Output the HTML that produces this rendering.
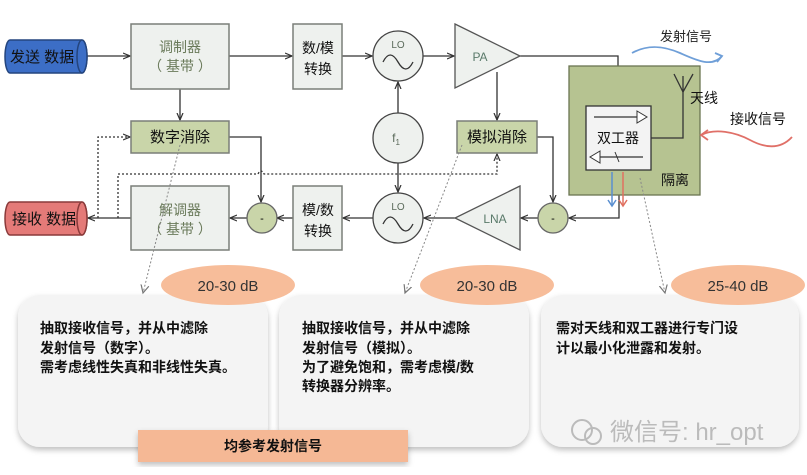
<!DOCTYPE html>
<html><head><meta charset="utf-8"><style>
body{margin:0;background:#fff;width:807px;height:470px;overflow:hidden;font-family:"Liberation Sans","Noto Sans CJK SC",sans-serif}
svg text{font-family:"Liberation Sans","Noto Sans CJK SC",sans-serif}
</style></head><body>
<svg width="807" height="470" viewBox="0 0 807 470" xmlns="http://www.w3.org/2000/svg">
<defs>
<marker id="a" markerWidth="8" markerHeight="8" refX="7" refY="4" orient="auto" markerUnits="userSpaceOnUse"><path d="M0,1 L7,4 L0,7" fill="none" stroke="#333" stroke-width="1.2"/></marker>
<marker id="g" markerWidth="10" markerHeight="10" refX="8" refY="5" orient="auto" markerUnits="userSpaceOnUse"><path d="M0,1 L8,5 L0,9" fill="none" stroke="#777" stroke-width="1.2"/></marker>
<filter id="sh" x="-10%" y="-10%" width="120%" height="125%"><feDropShadow dx="0" dy="3" stdDeviation="3" flood-color="#000" flood-opacity="0.25"/></filter>
</defs>
<g stroke="#333" stroke-width="1.3" fill="none">
<line x1="87" y1="56" x2="130" y2="56" marker-end="url(#a)"/>
<line x1="229" y1="56" x2="292" y2="56" marker-end="url(#a)"/>
<line x1="342" y1="56" x2="372" y2="56" marker-end="url(#a)"/>
<line x1="423" y1="56" x2="454" y2="56" marker-end="url(#a)"/>
<polyline points="520,56 618,56 618,105" marker-end="url(#a)"/>
<line x1="180" y1="89" x2="180" y2="120" marker-end="url(#a)"/>
<line x1="497" y1="72" x2="497" y2="120" marker-end="url(#a)"/>
<line x1="398" y1="113" x2="398" y2="82" marker-end="url(#a)"/>
<line x1="398" y1="163" x2="398" y2="192" marker-end="url(#a)"/>
<polyline points="229,137 261,137 261,202" marker-end="url(#a)"/>
<polyline points="537,137 553,137 553,202" marker-end="url(#a)"/>
<polyline points="619,170 619,218 569,218" marker-end="url(#a)"/>
<line x1="538" y1="218" x2="521" y2="218" marker-end="url(#a)"/>
<line x1="455" y1="218" x2="424" y2="218" marker-end="url(#a)"/>
<line x1="373" y1="218" x2="343" y2="218" marker-end="url(#a)"/>
<line x1="293" y1="218" x2="277" y2="218" marker-end="url(#a)"/>
<line x1="247" y1="218" x2="230" y2="218" marker-end="url(#a)"/>
<line x1="131" y1="218" x2="88" y2="218" marker-end="url(#a)"/>
<polyline points="98,218 98,137 130,137" stroke-dasharray="2,2" marker-end="url(#a)"/>
<path d="M118,218 L118,174 L258,174 Q261,168 264,174 L497,174 L497,154" stroke-dasharray="2,2" marker-end="url(#a)"/>
</g>
<path d="M10,40 L82,40 A5,16.5 0 0 1 82,73 L10,73 A5,16.5 0 0 1 10,40Z" fill="#3c6ec6" stroke="#24457e" stroke-width="1.5"/>
<ellipse cx="82" cy="56.5" rx="5" ry="16.5" fill="#3c6ec6" stroke="#24457e" stroke-width="1.5"/>
<text x="10" y="62" font-size="15" fill="#111">发送 数据</text>
<path d="M10,202 L82,202 A5,16.5 0 0 1 82,235 L10,235 A5,16.5 0 0 1 10,202Z" fill="#e47a78" stroke="#8a3a3a" stroke-width="1.5"/>
<ellipse cx="82" cy="218.5" rx="5" ry="16.5" fill="#e47a78" stroke="#8a3a3a" stroke-width="1.5"/>
<text x="12" y="224" font-size="15" fill="#111">接收 数据</text>
<g stroke="#7a7f78" stroke-width="1.5">
<rect x="131" y="24" width="98" height="65" fill="#eef1ee"/>
<rect x="293" y="24" width="49" height="65" fill="#eef1ee"/>
<rect x="131" y="186" width="98" height="64" fill="#eef1ee"/>
<rect x="293" y="186" width="49" height="64" fill="#eef1ee"/>
<rect x="131" y="121" width="98" height="32" fill="#c9d5a9"/>
<rect x="457" y="121" width="80" height="32" fill="#c9d5a9"/>
</g>
<g font-size="14" fill="#6a7a5a" text-anchor="middle">
<text x="180" y="52">调制器</text><text x="180" y="71">（ 基带 ）</text>
<text x="180" y="215">解调器</text><text x="180" y="234">（ 基带 ）</text>
</g>
<g font-size="14" fill="#111" text-anchor="middle">
<text x="318" y="53">数/模</text><text x="318" y="74">转换</text>
<text x="318" y="215">模/数</text><text x="318" y="236">转换</text>
<text x="180" y="142" font-size="15">数字消除</text>
<text x="497" y="142" font-size="15">模拟消除</text>
</g>
<g stroke="#444" stroke-width="1.3" fill="#eef1ee">
<circle cx="398" cy="56" r="25"/><circle cx="398" cy="138" r="25"/><circle cx="398" cy="218" r="25"/>
</g>
<g fill="none" stroke="#333" stroke-width="1.3">
<path d="M383,62 q7,-14 15,0 q8,14 15,0"/>
<path d="M383,224 q7,-14 15,0 q8,14 15,0"/>
</g>
<text x="398" y="48" font-size="10" fill="#5a6a5a" text-anchor="middle">LO</text>
<text x="398" y="210" font-size="10" fill="#5a6a5a" text-anchor="middle">LO</text>
<text x="396" y="142" font-size="12" fill="#5a6a5a" text-anchor="middle">f<tspan font-size="8" dy="3">1</tspan></text>
<circle cx="262" cy="218" r="15" fill="#c9d5a9" stroke="#666" stroke-width="1.3"/>
<circle cx="553" cy="218" r="15" fill="#c9d5a9" stroke="#666" stroke-width="1.3"/>
<text x="262" y="222" font-size="11" text-anchor="middle">-</text>
<text x="553" y="222" font-size="11" text-anchor="middle">-</text>
<polygon points="455,24 520,56 455,88" fill="#eef1ee" stroke="#555" stroke-width="1.3"/>
<text x="480" y="61" font-size="12" fill="#5a7a6a" text-anchor="middle">PA</text>
<polygon points="520,186 455,218 520,250" fill="#eef1ee" stroke="#555" stroke-width="1.3"/>
<text x="495" y="223" font-size="12" fill="#5a7a6a" text-anchor="middle">LNA</text>
<rect x="569" y="66" width="131" height="129" fill="#b6c391" stroke="#6b7552" stroke-width="1.3"/>
<polyline points="651,138 683,138 683,76" fill="none" stroke="#333" stroke-width="1.3"/>
<polyline points="674,74 683,92 693,74" fill="none" stroke="#333" stroke-width="1.3"/>
<rect x="586" y="106" width="65" height="64" fill="#f3f3f3" stroke="#333" stroke-width="1.3"/>
<line x1="594" y1="117" x2="637" y2="117" stroke="#333" stroke-width="1.2"/>
<polygon points="637,111 647,117 637,123" fill="#fff" stroke="#333"/>
<line x1="600" y1="157" x2="643" y2="157" stroke="#333" stroke-width="1.2"/>
<polygon points="600,151 590,157 600,163" fill="#fff" stroke="#333"/>
<line x1="615" y1="152" x2="619" y2="162" stroke="#333"/>
<text x="618" y="143" font-size="14" text-anchor="middle" fill="#111">双工器</text>
<text x="661" y="185" font-size="14" fill="#111">隔离</text>
<text x="690" y="103" font-size="14" fill="#111">天线</text>
<line x1="612" y1="172" x2="612" y2="205" stroke="#5a8fd0" stroke-width="1.5"/>
<polyline points="608,200 612,206 616,200" fill="none" stroke="#5a8fd0" stroke-width="1.5"/>
<line x1="623" y1="172" x2="623" y2="205" stroke="#e07060" stroke-width="1.5"/>
<polyline points="619,200 623,206 627,200" fill="none" stroke="#e07060" stroke-width="1.5"/>
<path d="M632,53 C648,44 664,46 680,53 S712,68 722,56" fill="none" stroke="#6f9fd8" stroke-width="1.8"/>
<polyline points="715,53 722,56 717,62" fill="none" stroke="#6f9fd8" stroke-width="1.8"/>
<text x="660" y="41" font-size="13" fill="#222">发射信号</text>
<path d="M792,137 C780,150 765,148 750,140 S715,128 701,135" fill="none" stroke="#e07068" stroke-width="1.8"/>
<polyline points="708,130 701,135 708,140" fill="none" stroke="#e07068" stroke-width="1.8"/>
<text x="730" y="124" font-size="14" fill="#111">接收信号</text>
<g fill="#f4f4f4" filter="url(#sh)">
<rect x="18" y="295" width="250" height="152" rx="22"/>
<rect x="279" y="295" width="250" height="152" rx="22"/>
<rect x="541" y="295" width="258" height="152" rx="22"/>
</g>
<g fill="#f7bd9a">
<ellipse cx="228" cy="285" rx="67" ry="20"/>
<ellipse cx="487" cy="285" rx="67" ry="20"/>
<ellipse cx="738" cy="285" rx="67" ry="20"/>
</g>
<g font-size="15" fill="#333" text-anchor="middle">
<text x="228" y="291">20-30 dB</text><text x="487" y="291">20-30 dB</text><text x="738" y="291">25-40 dB</text>
</g>
<g stroke="#888" stroke-width="1" stroke-dasharray="2,2" fill="none">
<line x1="180" y1="145" x2="143" y2="293" marker-end="url(#g)"/>
<line x1="462" y1="145" x2="405" y2="293" marker-end="url(#g)"/>
<line x1="640" y1="178" x2="665" y2="293" marker-end="url(#g)"/>
</g>
<g font-size="14" fill="#111" font-weight="bold">
<text x="40" y="333">抽取接收信号，并从中滤除</text>
<text x="40" y="353">发射信号（数字）。</text>
<text x="40" y="372">需考虑线性失真和非线性失真。</text>
<text x="302" y="333">抽取接收信号，并从中滤除</text>
<text x="302" y="353">发射信号（模拟）。</text>
<text x="302" y="372">为了避免饱和，需考虑模/数</text>
<text x="302" y="391">转换器分辨率。</text>
<text x="556" y="333">需对天线和双工器进行专门设</text>
<text x="556" y="353">计以最小化泄露和发射。</text>
</g>
<rect x="138" y="430" width="270" height="32" fill="#f5b895" filter="url(#sh)"/>
<text x="273" y="451" font-size="14" fill="#111" font-weight="bold" text-anchor="middle">均参考发射信号</text>
<text x="610" y="440" font-size="24" fill="#bbb">微信号: hr_opt</text>
<circle cx="582" cy="430" r="10" fill="none" stroke="#bbb" stroke-width="2"/>
<circle cx="593" cy="436" r="8" fill="none" stroke="#bbb" stroke-width="2"/>
</svg>
</body></html>
